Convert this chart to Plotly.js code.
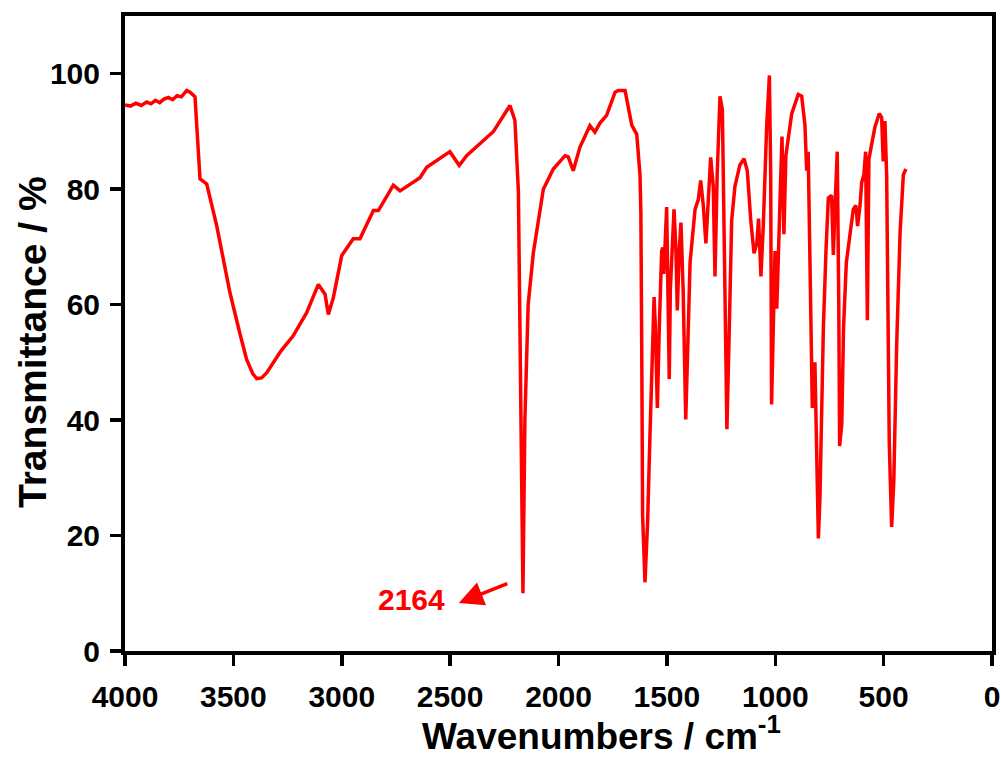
<!DOCTYPE html>
<html>
<head>
<meta charset="utf-8">
<script src="https://cdn.plot.ly/plotly-3.0.1.min.js"></script>
<style>html,body{margin:0;padding:0;background:#fff;}#chart{width:1001px;height:758px;}</style>
</head>
<body>
<div id="chart"></div>
<script>
const wavenumbers = [4000,3975,3950,3925,3900,3880,3860,3840,3820,3800,3780,3760,3740,3715,3700,3677,3654,3623,3577,3516,3470,3439,3410,3392,3370,3346,3280,3224,3162,3108,3077,3062,3039,3000,2947,2916,2854,2831,2762,2731,2639,2608,2501,2458,2424,2300,2224,2201,2185,2175,2164,2155,2140,2116,2070,2024,1970,1955,1932,1901,1855,1832,1808,1778,1739,1724,1693,1662,1639,1624,1620,1616,1612,1601,1589,1578,1570,1559,1553,1544,1535,1524,1519,1514,1501,1496,1489,1484,1467,1458,1452,1443,1435,1425,1413,1406,1393,1370,1355,1344,1332,1320,1309,1298,1286,1278,1268,1255,1244,1236,1229,1223,1212,1201,1186,1163,1144,1129,1113,1098,1085,1077,1066,1055,1040,1027,1021,1017,1009,1001,993,978,969,960,951,924,894,878,863,855,848,840,829,817,812,801,794,786,778,766,755,740,732,724,714,707,703,693,685,672,655,640,628,620,609,601,591,583,575,568,555,540,520,509,502,494,486,481,474,463,453,440,424,409,397];
const transmittance = [94.6,94.4,94.9,94.5,95.1,94.8,95.4,95.0,95.6,95.9,95.5,96.2,96.0,97.1,96.8,96.0,81.8,80.9,73.7,62.1,55.0,50.5,48.0,47.2,47.3,48.2,52.0,54.6,58.6,63.5,61.8,58.3,61.2,68.5,71.4,71.4,76.3,76.3,80.7,79.7,82.0,83.8,86.5,84.1,85.8,90.0,94.5,91.9,79.5,45.0,10.0,40.1,60.0,69.0,80.0,83.5,85.8,85.6,83.2,87.3,91.0,89.9,91.5,92.8,96.8,97.1,97.1,91.1,89.5,82.5,75.9,52.7,23.5,11.9,22.2,37.4,49.4,61.3,56.0,42.1,56.0,69.3,69.9,65.3,76.9,61.3,47.1,62.6,76.5,69.3,59.0,69.3,74.2,62.6,40.1,49.4,67.3,76.5,78.2,81.5,77.2,70.6,78.5,85.5,80.5,64.9,82.5,96.1,93.8,72.6,49.4,38.4,56.0,74.6,80.5,84.2,85.3,83.2,74.6,68.9,70.6,74.9,64.9,73.9,90.5,99.7,82.5,42.7,56.0,69.3,59.3,79.2,89.1,72.2,85.8,93.1,96.4,96.1,91.1,83.2,86.5,67.9,42.1,50.0,41.4,19.5,26.2,44.1,56.0,69.3,78.5,78.9,68.6,77.2,86.5,60.6,35.5,39.4,56.0,67.3,72.6,76.5,77.2,73.6,77.2,81.2,82.5,86.5,57.3,85.2,87.8,90.8,93.1,92.4,84.8,91.8,82.5,56.0,36.1,21.5,29.5,52.7,72.6,82.5,83.5];
const xTickVals = [4000,3500,3000,2500,2000,1500,1000,500,0];
const yTickVals = [0,20,40,60,80,100];
const peakLabel = "2164";
const xTitle = "Wavenumbers / cm<sup>-1</sup>";
const yTitle = "Transmittance / %";

const fontFam = "Liberation Sans, Arial, sans-serif";
const trace = {
  x: wavenumbers, y: transmittance, type: 'scatter', mode: 'lines',
  line: {color: '#ff0000', width: 3.5}, hoverinfo: 'skip'
};
const layout = {
  width: 1001, height: 758,
  margin: {l: 125, r: 9, t: 16, b: 107},
  paper_bgcolor: '#fff', plot_bgcolor: '#fff',
  showlegend: false,
  font: {family: fontFam, color: '#000'},
  xaxis: {
    range: [4000, 0], tickvals: xTickVals, ticktext: xTickVals.map(String),
    ticks: 'outside', ticklen: 11, tickwidth: 3.5, tickcolor: '#000',
    ticklabelstandoff: 5,
    showline: true, linewidth: 4, linecolor: '#000', mirror: true,
    showgrid: false, zeroline: false,
    tickfont: {family: fontFam, size: 30, color: '#000', weight: 'bold'}
  },
  yaxis: {
    range: [0, 110], tickvals: yTickVals, ticktext: yTickVals.map(String),
    ticks: 'outside', ticklen: 11, tickwidth: 3.5, tickcolor: '#000',
    ticklabelstandoff: 4,
    showline: true, linewidth: 4, linecolor: '#000', mirror: true,
    showgrid: false, zeroline: false,
    tickfont: {family: fontFam, size: 30, color: '#000', weight: 'bold'}
  },
  annotations: [
    {xref: 'paper', yref: 'paper', x: 0.550, y: -0.130, xanchor: 'center', yanchor: 'middle',
     text: xTitle, showarrow: false, font: {family: fontFam, size: 37, color: '#000', weight: 'bold'}},
    {xref: 'paper', yref: 'paper', x: -0.1073, y: 0.4866, xanchor: 'center', yanchor: 'middle',
     textangle: -90, text: yTitle, showarrow: false, font: {family: fontFam, size: 39, color: '#000', weight: 'bold'}},
    {x: 2676, y: 8.9, xref: 'x', yref: 'y', text: peakLabel, showarrow: false,
     font: {family: fontFam, size: 30, color: '#ff0000', weight: 'bold'}},
    {x: 2460, y: 8.3, xref: 'x', yref: 'y', text: '', showarrow: true, ax: 50, ay: -20,
     arrowhead: 2, arrowsize: 1.4, arrowwidth: 3.5, arrowcolor: '#ff0000', standoff: 0}
  ]
};
Plotly.newPlot('chart', [trace], layout, {displayModeBar: false, staticPlot: true});
</script>
</body>
</html>
